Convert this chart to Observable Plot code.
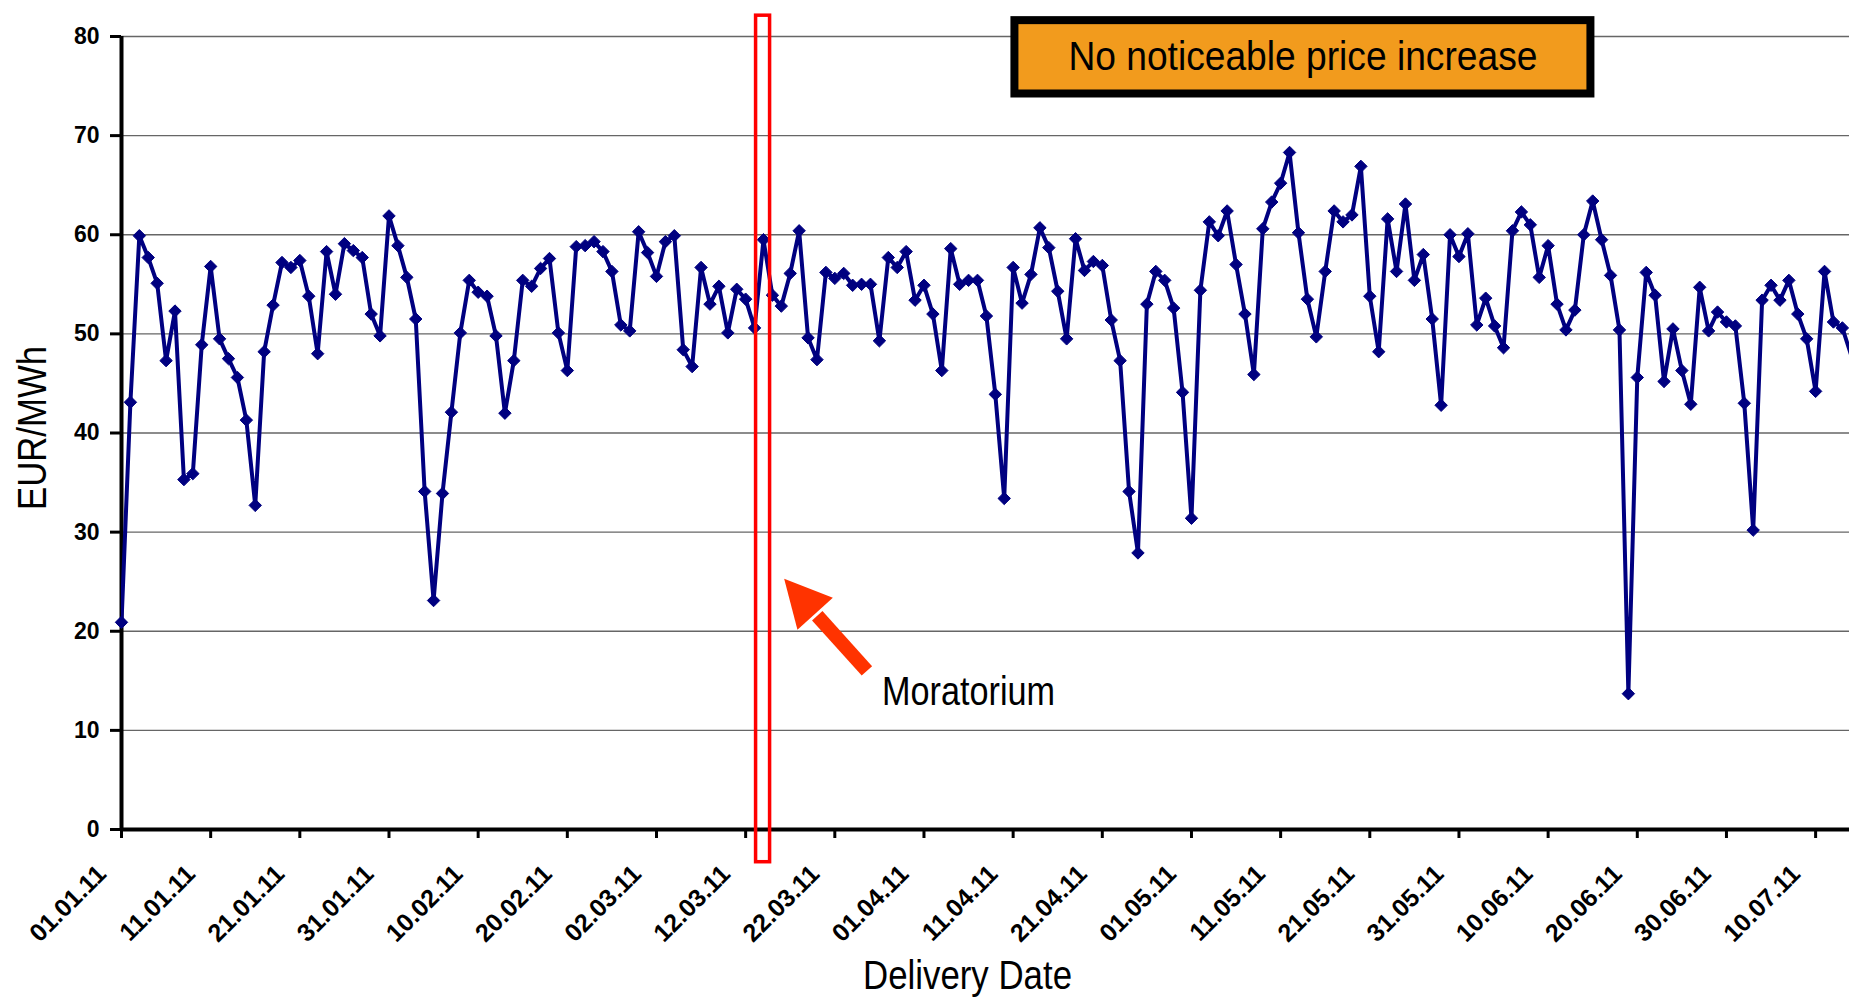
<!DOCTYPE html>
<html>
<head>
<meta charset="utf-8">
<script src="https://cdn.jsdelivr.net/npm/d3@7"></script>
<script src="https://cdn.jsdelivr.net/npm/@observablehq/plot@0.6"></script>
<style>
  html, body { margin: 0; padding: 0; background: #fff; }
  #chart svg { display: block; }
</style>
</head>
<body>
<div id="chart"></div>
<script>
// ---- data ----
const startLabel = "01.01.11";
const prices = [
  20.9, 43.1, 59.9, 57.7, 55.1, 47.3, 52.3, 35.3, 35.9, 48.9,
  56.8, 49.5, 47.5, 45.6, 41.3, 32.7, 48.2, 52.9, 57.2, 56.7,
  57.4, 53.8, 48.0, 58.3, 54.0, 59.1, 58.4, 57.7, 52.0, 49.8,
  61.9, 58.9, 55.7, 51.5, 34.1, 23.1, 33.9, 42.1, 50.1, 55.4,
  54.2, 53.8, 49.8, 42.0, 47.3, 55.4, 54.8, 56.6, 57.6, 50.1,
  46.3, 58.8, 58.9, 59.3, 58.3, 56.3, 50.9, 50.3, 60.3, 58.2,
  55.8, 59.3, 59.9, 48.4, 46.7, 56.7, 53.0, 54.8, 50.1, 54.5,
  53.5, 50.6, 59.5, 53.9, 52.8, 56.1, 60.4, 49.6, 47.4, 56.2,
  55.6, 56.1, 54.9, 55.0, 55.0, 49.3, 57.7, 56.7, 58.3, 53.4,
  54.9, 52.0, 46.3, 58.6, 55.0, 55.4, 55.4, 51.8, 43.9, 33.4,
  56.7, 53.1, 56.0, 60.7, 58.7, 54.3, 49.5, 59.6, 56.4, 57.3,
  56.9, 51.4, 47.3, 34.1, 27.9, 53.0, 56.3, 55.4, 52.6, 44.1,
  31.4, 54.4, 61.3, 59.9, 62.4, 57.0, 52.0, 45.9, 60.6, 63.3,
  65.2, 68.3, 60.2, 53.5, 49.7, 56.3, 62.4, 61.3, 62.0, 66.9,
  53.8, 48.2, 61.6, 56.3, 63.1, 55.4, 58.0, 51.5, 42.8, 60.0,
  57.8, 60.1, 50.9, 53.6, 50.8, 48.6, 60.4, 62.3, 61.0, 55.7,
  58.9, 53.0, 50.4, 52.4, 60.0, 63.4, 59.5, 55.9, 50.4, 13.7,
  45.6, 56.2, 53.9, 45.2, 50.5, 46.3, 42.9, 54.7, 50.3, 52.2,
  51.2, 50.8, 43.0, 30.2, 53.4, 54.9, 53.4, 55.4, 52.0, 49.5,
  44.2, 56.3, 51.2, 50.6, 47.8
];
const xTickLabels = [
  "01.01.11", "11.01.11", "21.01.11", "31.01.11", "10.02.11", "20.02.11",
  "02.03.11", "12.03.11", "22.03.11", "01.04.11", "11.04.11", "21.04.11",
  "01.05.11", "11.05.11", "21.05.11", "31.05.11", "10.06.11", "20.06.11",
  "30.06.11", "10.07.11"
];
const yTicks = [0, 10, 20, 30, 40, 50, 60, 70, 80];
const yLabel = "EUR/MWh";
const xLabel = "Delivery Date";
const boxText = "No noticeable price increase";
const arrowText = "Moratorium";
// annotation anchors in data space (days after start, price)
const visibleDays = 193.8;
const lastMarkerDay = 193;
const moratoriumDays = [71.17, 72.74];
const moratoriumValues = [-3.3, 82.1];
const boxDays = [100.2, 164.8];
const boxValues = [74.2, 81.6];
const arrowHead = [[74.32, 25.29], [75.81, 20.15], [79.78, 23.37]];
const arrowShaft = [[78.03, 21.56], [83.6, 16.0]];
const arrowTextAt = [85.3, 13.9];

// ---- derived ----
function parseDMY(s) {
  const [d, m, y] = s.split(".").map(Number);
  return new Date(Date.UTC(2000 + y, m - 1, d));
}
const start = parseDMY(startLabel);
const dayToDate = n => new Date(start.getTime() + n * 864e5);
const series = prices.map((v, i) => ({date: dayToDate(i), value: v}));
const markers = series.filter((d, i) => i <= lastMarkerDay);
const xTicks = xTickLabels.map(s => ({date: parseDMY(s), label: s}));

const sans = "'Liberation Sans', Arial, sans-serif";
const navy = "#000080";
const red = "#FF0000";
const arrowColor = "#FF3300";
const thin = {fontFamily: sans, fontWeight: "normal", fontSize: 40};

const chart = Plot.plot({
  width: 1849,
  height: 1003,
  marginLeft: 121,
  marginRight: 0,
  marginTop: 36,
  marginBottom: 174,
  style: {fontFamily: sans, fontSize: "23px", fontWeight: "bold", color: "black", background: "white", overflow: "visible"},
  x: {type: "utc", domain: [start, dayToDate(visibleDays)]},
  y: {domain: [0, 80]},
  marks: [
    Plot.gridY(yTicks, {stroke: "#666", strokeOpacity: 1, strokeWidth: 1.3}),
    Plot.axisY(yTicks, {tickSize: 11, tickPadding: 11, strokeWidth: 3, label: null, tickFormat: d => String(d)}),
    Plot.axisX(xTicks.map(d => d.date), {tickSize: 9, strokeWidth: 3, label: null, tickFormat: () => ""}),
    Plot.text(xTicks, {x: "date", text: "label", frameAnchor: "bottom", rotate: -45, textAnchor: "end", lineAnchor: "bottom", dx: -14, dy: 46, fontSize: 25, fontWeight: "bold"}),
    Plot.ruleY([0], {strokeWidth: 4}),
    Plot.ruleX([start], {strokeWidth: 4}),
    Plot.line(series, {x: "date", y: "value", stroke: navy, strokeWidth: 4, clip: true, curve: "linear"}),
    Plot.dot(markers, {x: "date", y: "value", symbol: "diamond2", r: 5.6, fill: navy, stroke: navy, strokeWidth: 1}),
    // moratorium marker box
    Plot.rect([0], {x1: dayToDate(moratoriumDays[0]), x2: dayToDate(moratoriumDays[1]), y1: moratoriumValues[0], y2: moratoriumValues[1], fill: "none", stroke: red, strokeWidth: 3.5}),
    // arrow
    Plot.line(arrowShaft, {x: d => dayToDate(d[0]), y: d => d[1], stroke: arrowColor, strokeWidth: 14, strokeLinecap: "butt"}),
    Plot.line(arrowHead, {x: d => dayToDate(d[0]), y: d => d[1], stroke: "none", fill: arrowColor}),
    Plot.text([arrowText], {x: dayToDate(arrowTextAt[0]), y: arrowTextAt[1], text: d => d, textAnchor: "start", lineAnchor: "middle", ...thin}),
    // headline box
    Plot.rect([0], {x1: dayToDate(boxDays[0]), x2: dayToDate(boxDays[1]), y1: boxValues[0], y2: boxValues[1], fill: "#F29B1D", stroke: "black", strokeWidth: 8}),
    Plot.text([boxText], {x: dayToDate((boxDays[0] + boxDays[1]) / 2), y: (boxValues[0] + boxValues[1]) / 2, text: d => d, textAnchor: "middle", lineAnchor: "middle", ...thin}),
    // axis titles
    Plot.text([yLabel], {frameAnchor: "left", text: d => d, rotate: -90, dx: -88, dy: -5, textAnchor: "middle", lineAnchor: "middle", ...thin}),
    Plot.text([xLabel], {frameAnchor: "bottom", text: d => d, dx: -18, dy: 147, textAnchor: "middle", lineAnchor: "middle", ...thin})
  ]
});

// condensed lettering like the original narrow typeface
const narrowWidths = new Map([[boxText, 469], [arrowText, 173], [xLabel, 209], [yLabel, 164]]);
d3.select(chart).selectAll("text").each(function () {
  const w = narrowWidths.get(this.textContent);
  if (w) {
    this.setAttribute("textLength", w);
    this.setAttribute("lengthAdjust", "spacingAndGlyphs");
  }
});
document.getElementById("chart").append(chart);
</script>
</body>
</html>
